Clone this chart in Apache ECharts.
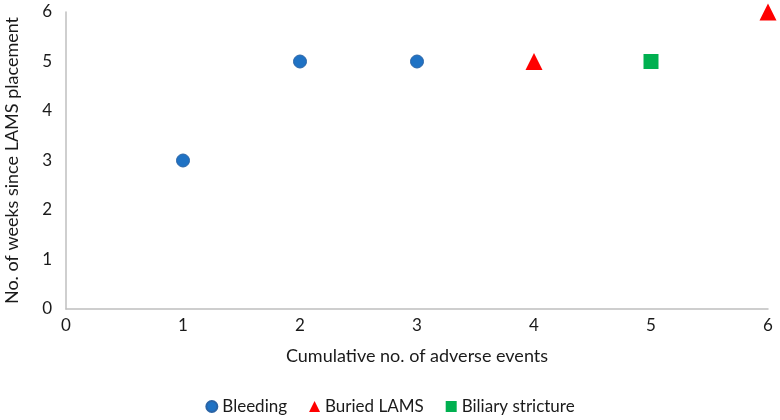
<!DOCTYPE html>
<html>
<head>
<meta charset="utf-8">
<script src="https://cdn.jsdelivr.net/npm/echarts@6/dist/echarts.min.js"></script>
<style>
  html, body { margin: 0; padding: 0; background: #fff; }
  #chart { width: 780px; height: 420px; }
</style>
</head>
<body>
<div id="chart"></div>
<script>
// [cumulative no. of events, weeks since placement]
const bleeding = [[1, 3], [2, 5], [3, 5]];
const buriedLams = [[4, 5], [6, 6]];
const biliaryStricture = [[5, 5]];

const font = "Lato, 'Open Sans', sans-serif";
const chart = echarts.init(document.getElementById("chart"));

chart.setOption({
  animation: false,
  textStyle: { fontFamily: font },
  grid: { left: 66, right: 12, top: 12, bottom: 111, outerBoundsMode: "none" },
  legend: {
    bottom: 0,
    left: "center",
    itemGap: 22,
    itemWidth: 11,
    itemHeight: 11,
    textStyle: { fontSize: 17, color: "#1a1a1a", fontFamily: font },
    data: [
      { name: "Bleeding", icon: "circle" },
      { name: "Buried LAMS", icon: "triangle" },
      { name: "Biliary stricture", icon: "rect" },
    ],
  },
  xAxis: {
    type: "value",
    min: 0,
    max: 6,
    interval: 1,
    name: "Cumulative no. of adverse events",
    nameLocation: "middle",
    nameGap: 38,
    nameTextStyle: { fontSize: 18, color: "#1a1a1a" },
    axisLine: { lineStyle: { color: "#bfbfbf", width: 1.5 } },
    axisTick: { show: false },
    axisLabel: { fontSize: 17, color: "#1a1a1a", margin: 8 },
    splitLine: { show: false },
  },
  yAxis: {
    type: "value",
    min: 0,
    max: 6,
    interval: 1,
    name: "No. of weeks since LAMS placement",
    nameLocation: "middle",
    nameGap: 45,
    nameTextStyle: { fontSize: 18, color: "#1a1a1a" },
    axisLine: { show: true, lineStyle: { color: "#bfbfbf", width: 1.5 } },
    axisTick: { show: false },
    axisLabel: { fontSize: 17, color: "#1a1a1a", margin: 14 },
    splitLine: { show: false },
  },
  series: [
    {
      name: "Bleeding",
      type: "scatter",
      symbol: "circle",
      symbolSize: 13,
      itemStyle: { color: "#1f72c4", borderColor: "#2a64a6", borderWidth: 1, opacity: 1 },
      data: bleeding,
    },
    {
      name: "Buried LAMS",
      type: "scatter",
      symbol: "triangle",
      symbolSize: 17,
      itemStyle: { color: "#ff0000", opacity: 1 },
      data: buriedLams,
    },
    {
      name: "Biliary stricture",
      type: "scatter",
      symbol: "rect",
      symbolSize: 15,
      itemStyle: { color: "#00b050", opacity: 1 },
      data: biliaryStricture,
    },
  ],
});
</script>
</body>
</html>
